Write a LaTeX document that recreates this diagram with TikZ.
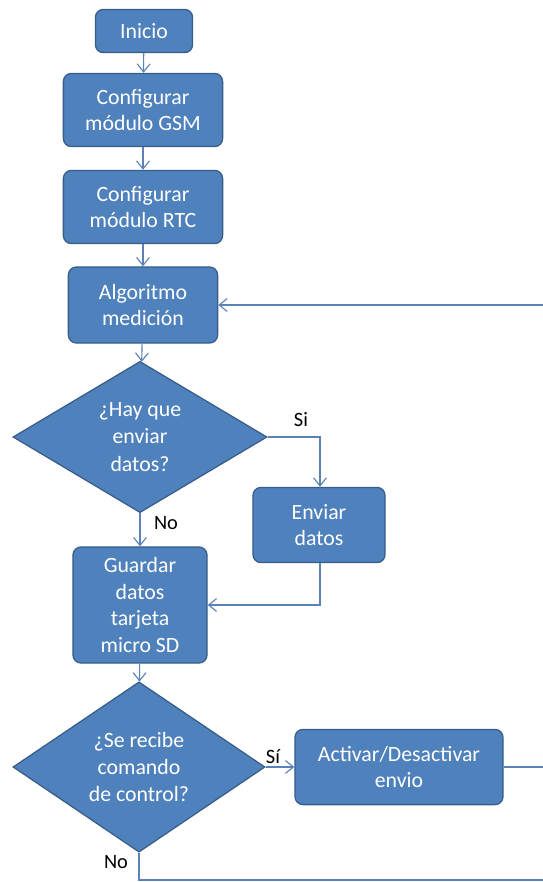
\documentclass[tikz,border=0pt]{standalone}
\usepackage{fontspec}
\setmainfont{Carlito}
\usetikzlibrary{shapes.geometric,arrows.meta}
\definecolor{boxfill}{RGB}{79,129,189}
\definecolor{boxline}{RGB}{56,93,138}
\definecolor{wire}{RGB}{90,130,185}
\begin{document}
\begin{tikzpicture}[x=0.025cm, y=-0.025cm]
\tikzset{
  proc/.style={draw=boxline, fill=boxfill, line width=0.9pt, rounded corners=0.2cm,
    text=white, align=center, inner sep=0pt, font=\fontsize{15.5}{19}\selectfont},
  decide/.style={diamond, draw=boxline, fill=boxfill, line width=0.9pt,
    text=white, align=center, inner sep=0pt, font=\fontsize{15.5}{19.5}\selectfont},
  wirearrow/.style={draw=wire, line width=0.8pt, -{Straight Barb[length=2mm,width=3.2mm]}},
  wireline/.style={draw=wire, line width=0.8pt},
  tag/.style={font=\fontsize{14.5}{16}\selectfont, text=black, inner sep=0pt}
}
\useasboundingbox (0,0) rectangle (543,882);
\node [proc, minimum width=2.43cm, minimum height=1.08cm] (inicio) at (144,31) {Inicio};
\node [proc, minimum width=3.98cm, minimum height=1.83cm] (gsm) at (143,110) {Configurar\\módulo GSM};
\node [proc, minimum width=3.98cm, minimum height=1.83cm] (rtc) at (143,207) {Configurar\\módulo RTC};
\node [proc, minimum width=3.73cm, minimum height=1.9cm] (algo) at (143,305) {Algoritmo\\medición};
\node [decide, minimum width=6.35cm, minimum height=3.68cm] (envq) at (140,437) {¿Hay que\\enviar\\datos?};
\node [proc, minimum width=3.3cm, minimum height=1.88cm] (enviar) at (319,525) {Enviar\\datos};
\node [proc, minimum width=3.35cm, minimum height=2.9cm] (guardar) at (140,605) {Guardar\\datos\\tarjeta\\micro SD};
\node [decide, minimum width=6.3cm, minimum height=4.08cm] (ctrlq) at (139,767) {¿Se recibe\\comando\\de control?};
\node [proc, minimum width=5.2cm, minimum height=1.88cm] (activar) at (399,767) {Activar/Desactivar\\envio};
\coordinate (retA) at (543,305);
\coordinate (retB) at (543,767);
\coordinate (retC) at (543,880);
\coordinate (bendS) at (320,437);
\coordinate (bendE) at (320,605);
\coordinate (bendN) at (139,880);
\draw [wirearrow] (inicio) -- (gsm);
\draw [wirearrow] (gsm) -- (rtc);
\draw [wirearrow] (rtc) -- (algo);
\draw [wirearrow] (algo) -- (envq);
\draw [wirearrow] (retA) -- (algo.east);
\draw [wirearrow] (envq.east) -- (bendS) -- (enviar.north -| bendS);
\draw [wirearrow] (envq.south) -- (guardar.north);
\draw [wirearrow] (enviar.south -| bendE) -- (bendE) -- (guardar.east |- bendE);
\draw [wirearrow] (guardar) -- (ctrlq);
\draw [wirearrow] (ctrlq.east) -- (activar.west);
\draw [wireline] (activar.east) -- (retB);
\draw [wireline] (ctrlq.south) -- (bendN) -- (retC);
\node [tag] (siA) at (301,420) {Si};
\node [tag] (noA) at (166,523) {No};
\node [tag] (siB) at (273,757) {Sí};
\node [tag] (noB) at (116,862) {No};
\end{tikzpicture}
\end{document}
